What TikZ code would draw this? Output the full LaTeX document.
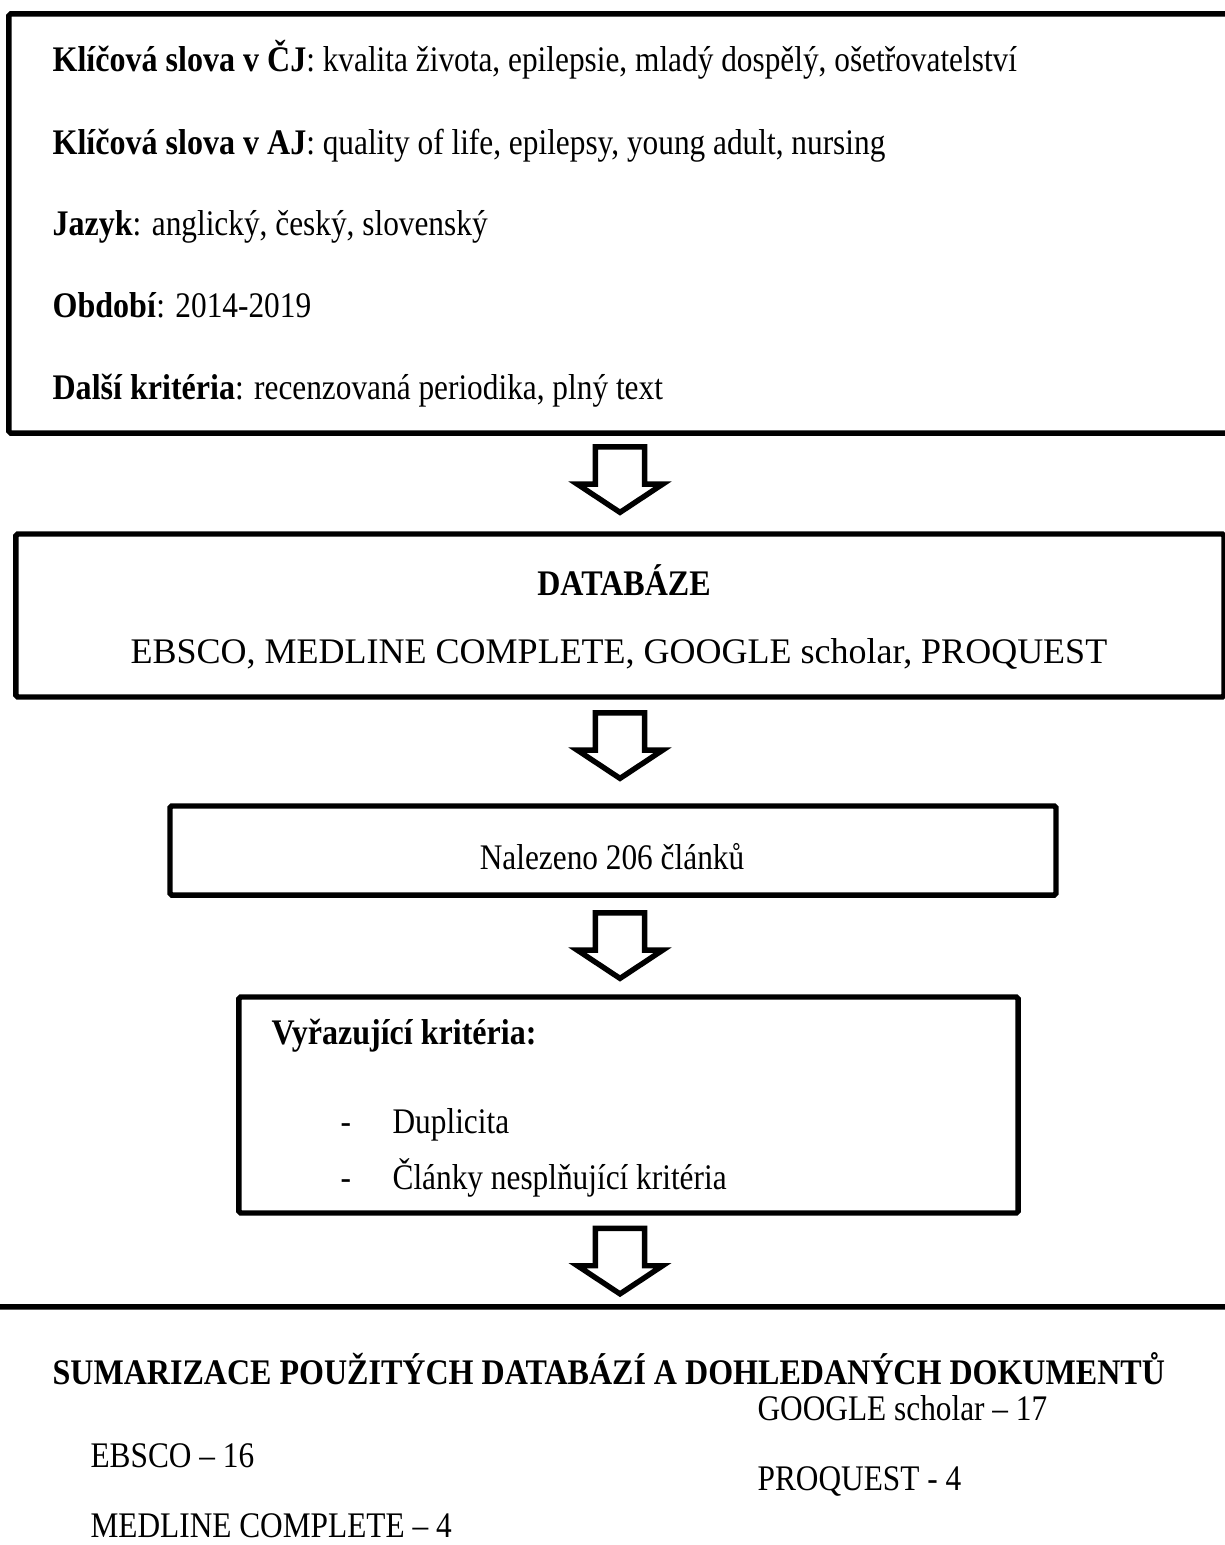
\documentclass[tikz,border=0pt]{standalone}
\usepackage{fontspec}
\setmainfont[FakeStretch=0.87,BoldFeatures={FakeStretch=0.89}]{Liberation Serif}
\newfontfamily\fullwidth{Liberation Serif}
\usetikzlibrary{shapes.arrows}
\begin{document}
\begin{tikzpicture}[x=0.3333pt,y=-0.3333pt,
		box/.style={draw,line width=1.8pt,rounded corners=0.6pt,inner sep=0pt},
		txt/.style={inner sep=0pt,font=\fontsize{12}{14}\selectfont},
		flow/.style={single arrow,draw,line width=1.8pt,shape border rotate=270,
			inner sep=7.3pt,minimum height=20.3pt,minimum width=0pt,
			single arrow head extend=6pt,single arrow tip angle=113}]
		\useasboundingbox (0,0) rectangle (1225,1545);
		% boxes
		\node[box,minimum width=407.7pt,minimum height=139.7pt] (K) at (620.5,223.5) {};
		\node[box,minimum width=402.7pt,minimum height=54.3pt] (D) at (620,615.5) {};
		\node[box,minimum width=295.3pt,minimum height=29.7pt] (N) at (613,850.5) {};
		\node[box,minimum width=259.7pt,minimum height=72pt] (V) at (628.5,1105) {};
		\node[box,minimum width=433.3pt,minimum height=128.7pt] (S) at (612.5,1500) {};
		% arrows
		\node[flow] (A1) at (620,471.5) {};
		\node[flow] (A2) at (620,737.5) {};
		\node[flow] (A3) at (620,937.5) {};
		\node[flow] (A4) at (620,1253) {};
		% texts
		\node[txt,anchor=base west] (K1) at (52,72) {\textbf{Klíčová slova v ČJ}: kvalita života, epilepsie, mladý dospělý, ošetřovatelství};
		\node[txt,anchor=base west] (K2) at (52,154) {\textbf{Klíčová slova v AJ}: quality of life, epilepsy, young adult, nursing};
		\node[txt,anchor=base west] (K3) at (52,236) {\textbf{Jazyk}: anglický, český, slovenský};
		\node[txt,anchor=base west] (K4) at (52,317) {\textbf{Období}: 2014-2019};
		\node[txt,anchor=base west] (K5) at (52,399) {\textbf{Další kritéria}: recenzovaná periodika, plný text};
		\node[txt,anchor=base] (D1) at (624,595) {\textbf{DATABÁZE}};
		\node[txt,anchor=base] (D2) at (619,663) {\fullwidth EBSCO, MEDLINE COMPLETE, GOOGLE scholar, PROQUEST};
		\node[txt,anchor=base] (N1) at (612,869) {Nalezeno 206 článků};
		\node[txt,anchor=base west] (V1) at (271,1044) {\textbf{Vyřazující kritéria:}};
		\node[txt,anchor=base west] (V2) at (340,1133) {-};
		\node[txt,anchor=base west] (V3) at (392,1133) {Duplicita};
		\node[txt,anchor=base west] (V4) at (340,1189) {-};
		\node[txt,anchor=base west] (V5) at (392,1189) {Články nesplňující kritéria};
		\node[txt,anchor=base west] (S1) at (52,1384) {\textbf{SUMARIZACE POUŽITÝCH DATABÁZÍ A DOHLEDANÝCH DOKUMENTŮ}};
		\node[txt,anchor=base west] (S2) at (90,1467) {EBSCO – 16};
		\node[txt,anchor=base west] (S3) at (90,1537) {MEDLINE COMPLETE – 4};
		\node[txt,anchor=base west] (S4) at (757,1420) {GOOGLE scholar – 17};
		\node[txt,anchor=base west] (S5) at (757,1490) {PROQUEST - 4};
	\end{tikzpicture}
\end{document}
